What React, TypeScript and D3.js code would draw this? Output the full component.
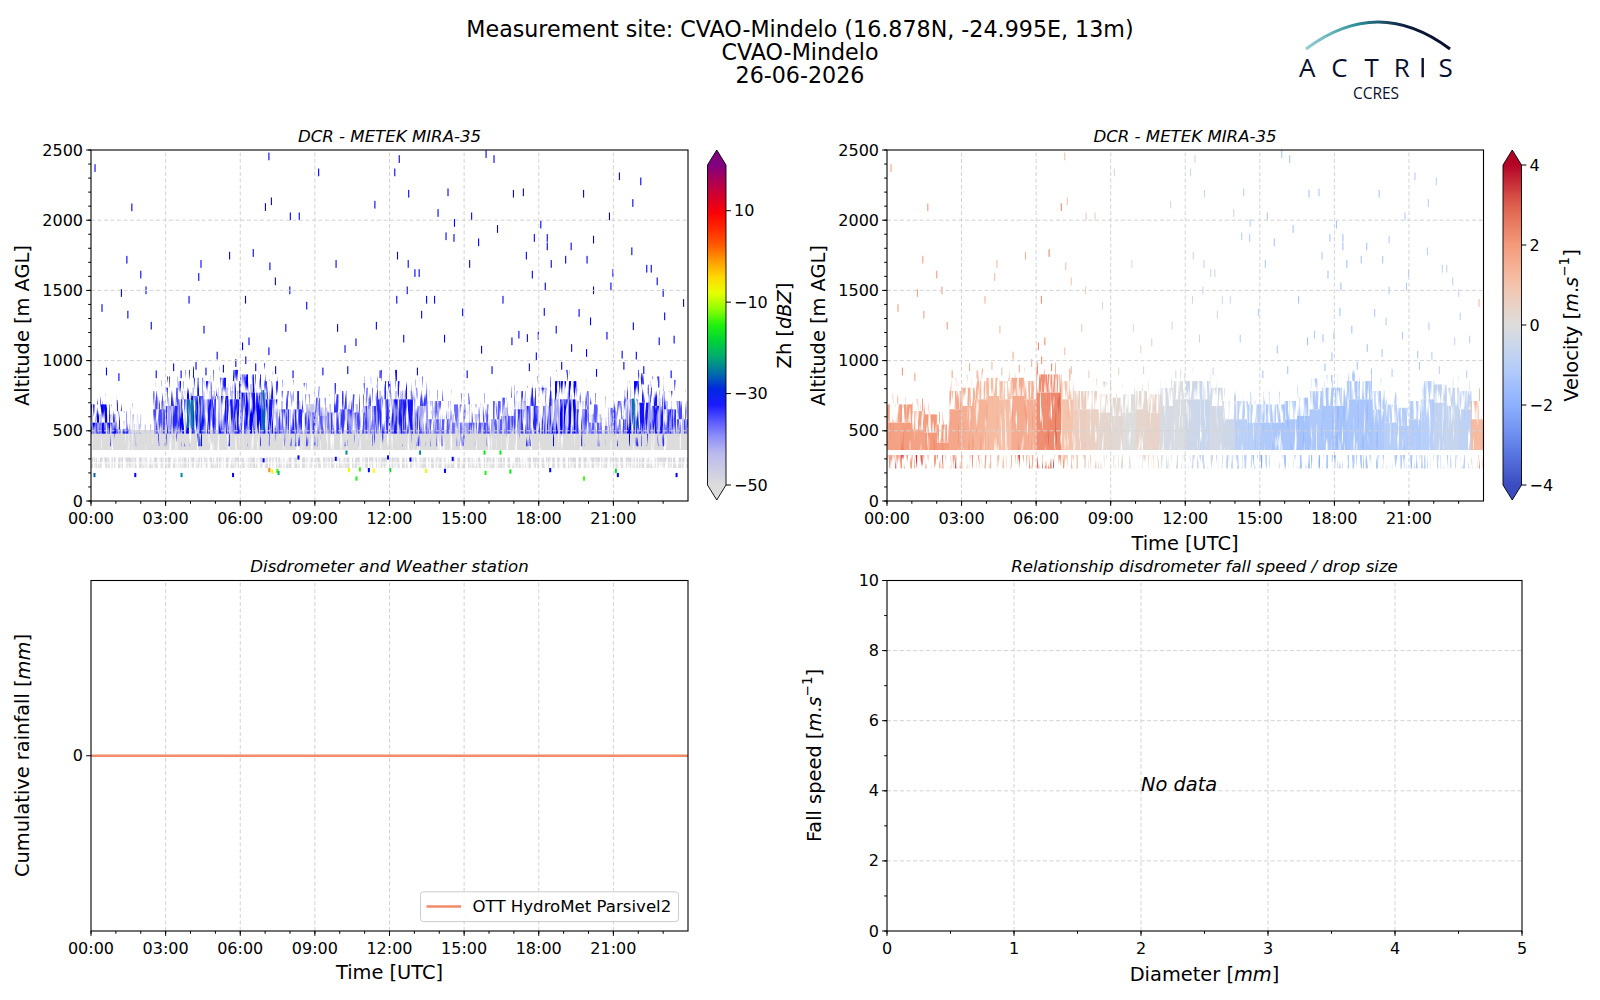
import * as d3 from "d3";

// ---------- values ----------
const binStartHours = d3.range(0, 24, 0.5);
const binWidthHours = 0.5;

// top of the boundary-layer cloud echo, per half hour [m]
const echoTopAltitude = [
  648, 648, 600, 577, 505, 743, 767, 814, 838, 814, 838, 814, 862, 862, 814, 743,
  743, 720, 696, 720, 743, 720, 767, 814, 814, 814, 767, 672, 672, 648, 648, 648,
  672, 696, 743, 767, 767, 814, 814, 743, 648, 624, 672, 814, 790, 767, 743, 672
];
// typical reflectivity of that echo, per half hour [dBZ]
const echoReflectivity = [
  -31, -31, -33, -42, -45, -35, -33, -31, -30, -32, -32, -32, -31, -31, -32, -34,
  -33, -34, -36, -34, -34, -35, -34, -33, -32, -32, -34, -36, -36, -37, -36, -35,
  -36, -35, -34, -33, -33, -31, -31, -34, -36, -37, -34, -31, -32, -32, -33, -35
];
// typical Doppler velocity, per half hour [m/s]
const echoVelocity = [
  1.8, 1.9, 1.8, 2.0, 1.9, 1.7, 1.5, 1.4, 1.2, 1.1, 1.6, 1.5, 2.2, 2.3, 1.0, 0.6,
  0.5, 0.3, 0.2, 0.0, 0.3, 0.4, -0.2, -0.1, -0.4, -0.5, -0.3, -0.4, -0.9, -1.0, -1.2, -1.3,
  -1.3, -1.4, -1.2, -1.3, -1.4, -1.3, -1.3, -1.2, -1.0, -1.1, -1.1, -1.0, -0.7, -0.6, -0.8, 1.2
];
const blueEchoBase = 480;
const blueStreakBase = 390;
const dopplerEchoBase = 363;
const weakEchoZh = -45;

// weak clutter / aerosol layers in Zh
const clutterBase = [363, 275, 235];
const clutterTop = [505, 310, 268];
const clutterZh = [-50, -49, -51];
// low Doppler band
const lowBandBase = 232;
const lowBandTop = 327;

// stronger cores
const coreStartHours = [3.85, 6.85, 21.75];
const coreEndHours = [4.12, 7.0, 21.95];
const coreBase = [520, 500, 520];
const coreTop = [720, 790, 730];
const coreZh = [-25, -26, -25];

// isolated echoes aloft [hour, altitude m]
const sparseEchoes: [number, number][] = [
  [0.14, 2369], [7.13, 2452], [9.13, 2338], [12.37, 2433], [12.19, 2338], [15.86, 2469], [16.18, 2433],
  [21.22, 2310], [22.08, 2274], [1.62, 2089], [6.99, 2091], [7.23, 2132], [7.99, 2025], [8.35, 2025],
  [11.39, 2108], [12.75, 2186], [13.93, 2049], [14.33, 2196], [14.59, 1978], [15.28, 2025], [16.96, 2186],
  [17.36, 2196], [18.06, 1966], [19.78, 2186], [20.82, 2025], [21.76, 2120], [16.32, 1935], [14.25, 1883],
  [14.57, 1871], [17.8, 1871], [18.32, 1871], [20.18, 1859], [15.56, 1840], [18.32, 1811], [19.28, 1811],
  [21.72, 1776], [6.5, 1764], [5.55, 1745], [12.3, 1745], [17.48, 1745], [19.92, 1716], [1.42, 1716],
  [4.4, 1686], [7.17, 1669], [9.83, 1686], [12.73, 1686], [15.2, 1686], [18.48, 1686], [19.06, 1716],
  [22.32, 1652], [22.5, 1652], [1.98, 1610], [4.31, 1593], [7.39, 1562], [13.0, 1621], [13.17, 1621],
  [17.72, 1610], [20.96, 1621], [22.74, 1562], [2.19, 1498], [1.2, 1479], [7.97, 1498], [12.69, 1498],
  [18.24, 1526], [20.18, 1498], [22.98, 1479], [20.88, 1526], [0.42, 1372], [1.46, 1325], [3.92, 1431],
  [6.19, 1431], [8.65, 1389], [12.27, 1431], [13.47, 1431], [13.79, 1431], [16.54, 1431], [18.2, 1344],
  [19.6, 1337], [23.04, 1313], [23.8, 1408], [2.4, 1246], [4.52, 1218], [7.81, 1230], [9.89, 1230],
  [11.45, 1246], [13.27, 1325], [14.92, 1341], [17.18, 1182], [17.52, 1158], [17.96, 1175], [18.68, 1218],
  [20.06, 1277], [20.72, 1175], [21.78, 1242], [22.82, 1135], [23.42, 1147], [6.33, 1135], [6.07, 1099],
  [10.19, 1080], [10.63, 1128], [12.55, 1154], [14.19, 1154], [16.9, 1135], [19.3, 1087], [19.9, 1052],
  [21.33, 1040], [21.9, 1033], [5.05, 1033], [7.13, 1064], [15.68, 1075], [17.88, 1028],
  [3.3, 950], [3.6, 900], [4.2, 960], [4.6, 920], [5.3, 940], [5.8, 980], [6.2, 1000], [6.6, 950],
  [7.4, 930], [8.1, 900], [9.3, 920], [10.3, 930], [11.6, 900], [13.1, 920], [15.1, 900], [16.1, 930],
  [17.6, 950], [18.9, 960], [20.3, 910], [21.4, 960], [22.2, 930], [23.3, 900], [0.6, 920], [1.1, 880], [2.6, 900]
];

// low-level echoes below the cloud [hour, altitude m, Zh dBZ]
const lowEchoes: [number, number, number][] = [
  [0.1, 185, -26], [1.74, 185, -31], [3.6, 185, -24], [5.67, 185, -31], [7.13, 220, 0], [7.25, 210, -8],
  [7.45, 215, -14], [7.5, 200, -20], [10.23, 345, -24], [10.33, 220, -8], [10.63, 160, -15], [10.77, 225, -14],
  [11.13, 220, -31], [11.33, 215, -7], [11.99, 220, -18], [13.19, 345, -24], [13.43, 215, -8], [14.19, 215, -31],
  [15.78, 345, -16], [15.82, 200, -15], [16.42, 345, -16], [16.82, 210, -16], [18.42, 220, -31], [19.78, 160, -14],
  [21.06, 215, -18], [21.14, 185, -31], [23.5, 185, -31], [8.3, 310, -31], [6.9, 290, -31], [9.8, 300, -31],
  [11.9, 310, -31], [14.5, 300, -31], [12.8, 295, -31]
];

// cumulative rainfall (Parsivel2): dry day
const rainHours = [0, 24];
const rainTotal = [0, 0];

// ticks
const timeTicks = [0, 3, 6, 9, 12, 15, 18, 21];
const timeMinorTicks = d3.range(0, 24, 1);
const altitudeTicks = [0, 500, 1000, 1500, 2000, 2500];
const altitudeMinorTicks = d3.range(0, 2501, 100);
const zhTicks = [-50, -30, -10, 10];
const velocityTicks = [-4, -2, 0, 2, 4];
const diameterTicks = [0, 1, 2, 3, 4, 5];
const diameterMinorTicks = d3.range(0, 5.01, 0.5);
const fallSpeedTicks = [0, 2, 4, 6, 8, 10];
const fallSpeedMinorTicks = d3.range(0, 10.01, 1);

// ---------- colour maps ----------
const zhStops = [-50, -42, -37, -31, -27, -23, -16, -11, -7, -2, 2, 9, 15, 20];
const zhStopColors = [
  "#dcdcdc", "#b4b4f0", "#6b6bff", "#0000ff", "#0050c0", "#00a080", "#00ee10",
  "#a0ff00", "#ffff00", "#ffb000", "#ff6000", "#ff0000", "#c00040", "#800080"
];
const velStops = [-4, -3, -2, -1, 0, 1, 2, 3, 4];
const velStopColors = [
  "#3b4cc0", "#6282ea", "#8db0fe", "#b7cff9", "#dddddd", "#f5c4ac", "#f49a7b", "#de604d", "#b40426"
];
const zhColor = d3.scaleLinear<string>().domain(zhStops).range(zhStopColors).clamp(true);
const velColor = d3.scaleLinear<string>().domain(velStops).range(velStopColors).clamp(true);

// ---------- layout ----------
const W = 1600;
const H = 1000;
const FONT = "'DejaVu Sans', sans-serif";
const rainColor = "#f28b68";
const gridColor = "#d3d3d3";

const topY = d3.scaleLinear().domain([0, 2500]).range([501, 150]);
const zhTime = d3.scaleLinear().domain([0, 24]).range([91, 688]);
const velTime = d3.scaleLinear().domain([0, 24]).range([887, 1483.5]);
const rainTime = d3.scaleLinear().domain([0, 24]).range([91, 688]);
const rainY = d3.scaleLinear().domain([-1, 1]).range([931, 580.5]);
const diameterX = d3.scaleLinear().domain([0, 5]).range([887, 1522]);
const fallSpeedY = d3.scaleLinear().domain([0, 10]).range([931, 580.5]);

const hh = (h: number) => `${String(h).padStart(2, "0")}:00`;
const minus = (v: number) => (v < 0 ? `\u2212${Math.abs(v)}` : `${v}`);

// noise textures: [id, seed, alpha gain, alpha offset]
const textures: [string, number, number, number][] = [
  ["texDense", 4, 5, -1.95],
  ["texSolid", 7, 5, -1.1],
  ["texSparse", 11, 6, -3.1],
  ["texThin", 19, 7, -4.4],
  ["texAccent", 23, 7, -4.0],
  ["texWeak", 31, 6, -2.9],
  ["texFull", 37, 5, -0.9]
];

export default function App() {
  return (
    <div style={{ width: W, height: H }}>
      <style>{"body{margin:0;background:#fff}"}</style>
      <svg width={W} height={H} viewBox={`0 0 ${W} ${H}`} style={{ display: "block", fontFamily: FONT }}>
        <Defs />
        <SuperTitle />
        <Logo />
        <ReflectivityPanel />
        <VelocityPanel />
        <RainfallPanel />
        <FallSpeedPanel />
      </svg>
    </div>
  );
}

function Defs() {
  const steps = d3.range(0, 1.0001, 0.05);
  return (
    <defs>
      {textures.map(([id, seed, gain, offset]) => (
        <filter
          key={id}
          id={id}
          filterUnits="userSpaceOnUse"
          x="0"
          y="0"
          width={W}
          height={H}
          colorInterpolationFilters="sRGB"
        >
          <feTurbulence type="fractalNoise" baseFrequency="0.38 0.028" numOctaves="2" seed={seed} result="n" />
          <feColorMatrix
            in="n"
            type="matrix"
            values={`0 0 0 0 0  0 0 0 0 0  0 0 0 0 0  ${gain} 0 0 0 ${offset}`}
            result="a"
          />
          <feComposite in="SourceGraphic" in2="a" operator="in" />
        </filter>
      ))}
      <linearGradient id="zhGrad" x1="0" y1="1" x2="0" y2="0">
        {steps.map((t) => (
          <stop key={t} offset={t} stopColor={zhColor(-50 + t * 70)} />
        ))}
      </linearGradient>
      <linearGradient id="velGrad" x1="0" y1="1" x2="0" y2="0">
        {steps.map((t) => (
          <stop key={t} offset={t} stopColor={velColor(-4 + t * 8)} />
        ))}
      </linearGradient>
      <linearGradient id="arcGrad" x1="1306" y1="0" x2="1450" y2="0" gradientUnits="userSpaceOnUse">
        <stop offset="0" stopColor="#63b9bd" stopOpacity="0.7" />
        <stop offset="0.35" stopColor="#2f8f9a" />
        <stop offset="0.7" stopColor="#0d1a3a" />
        <stop offset="1" stopColor="#0b0f2e" />
      </linearGradient>
      <linearGradient id="poleGrad" x1="0" y1="0" x2="0" y2="1">
        <stop offset="0" stopColor="#0b0f2e" stopOpacity="0.3" />
        <stop offset="1" stopColor="#0b0f2e" />
      </linearGradient>
      <clipPath id="clipZh">
        <rect x={91} y={150} width={597} height={351} />
      </clipPath>
      <clipPath id="clipVel">
        <rect x={887} y={150} width={596.5} height={351} />
      </clipPath>
    </defs>
  );
}

function SuperTitle() {
  const lines = ["Measurement site: CVAO-Mindelo (16.878N, -24.995E, 13m)", "CVAO-Mindelo", "26-06-2026"];
  return (
    <g fontSize="22.2" textAnchor="middle">
      {lines.map((t, i) => (
        <text key={t} x={800} y={36.5 + i * 23}>
          {t}
        </text>
      ))}
    </g>
  );
}

function Logo() {
  const letters = ["A", "C", "T", "R", "I", "S"];
  const centers = [1307.3, 1339.5, 1371.7, 1401.7, 1422.7, 1445.7];
  return (
    <g>
      <path d="M1306,49 Q1378,-5 1450,49" fill="none" stroke="url(#arcGrad)" strokeWidth="3" />
      <line x1="1422.7" y1="2" x2="1422.7" y2="52" stroke="url(#poleGrad)" strokeWidth="2.4" />
      <g fontFamily="'Open Sans', Lato, sans-serif" fontSize="26" fill="#0b0f2e" textAnchor="middle">
        {letters.map((l, i) =>
          l === "I" ? (
            <rect key={l} x={centers[i] - 1.2} y={58} width={2.4} height={19.3} fill="#0b0f2e" />
          ) : (
            <text key={l} x={centers[i]} y={77.3}>
              {l}
            </text>
          )
        )}
      </g>
      <text x={1376} y={98.8} fontFamily="'Open Sans', Lato, sans-serif" fontSize="15.5" fill="#0b0f2e" textAnchor="middle">
        CCRES
      </text>
    </g>
  );
}

interface FrameProps {
  readonly x: d3.ScaleLinear<number, number>;
  readonly y: d3.ScaleLinear<number, number>;
  readonly xTicks: readonly number[];
  readonly xMinor: readonly number[];
  readonly yTicks: readonly number[];
  readonly yMinor: readonly number[];
  readonly xFormat: (v: number) => string;
  readonly yFormat: (v: number) => string;
}

function Grid({
  x,
  y,
  xGrid,
  yGrid
}: {
  readonly x: d3.ScaleLinear<number, number>;
  readonly y: d3.ScaleLinear<number, number>;
  readonly xGrid: readonly number[];
  readonly yGrid: readonly number[];
}) {
  const [x0, x1] = x.range();
  const [y0, y1] = y.range();
  return (
    <g stroke={gridColor} strokeWidth="1" strokeDasharray="4,2.5">
      {xGrid.map((v) => (
        <line key={`gx${v}`} x1={x(v)} x2={x(v)} y1={y0} y2={y1} />
      ))}
      {yGrid.map((v) => (
        <line key={`gy${v}`} x1={x0} x2={x1} y1={y(v)} y2={y(v)} />
      ))}
    </g>
  );
}

function Frame({ x, y, xTicks, xMinor, yTicks, yMinor, xFormat, yFormat }: FrameProps) {
  const [x0, x1] = x.range();
  const [y0, y1] = y.range();
  return (
    <g>
      <rect x={x0} y={y1} width={x1 - x0} height={y0 - y1} fill="none" stroke="#000" strokeWidth="1.1" />
      <g stroke="#000" strokeWidth="1">
        {xMinor.map((v) => (
          <line key={`mx${v}`} x1={x(v)} x2={x(v)} y1={y0} y2={y0 + 2.8} />
        ))}
        {xTicks.map((v) => (
          <line key={`tx${v}`} x1={x(v)} x2={x(v)} y1={y0} y2={y0 + 4.9} />
        ))}
        {yMinor.map((v) => (
          <line key={`my${v}`} x1={x0} x2={x0 - 2.8} y1={y(v)} y2={y(v)} />
        ))}
        {yTicks.map((v) => (
          <line key={`ty${v}`} x1={x0} x2={x0 - 4.9} y1={y(v)} y2={y(v)} />
        ))}
      </g>
      <g fontSize="16" fill="#000">
        {xTicks.map((v) => (
          <text key={`lx${v}`} x={x(v)} y={y0 + 23} textAnchor="middle">
            {xFormat(v)}
          </text>
        ))}
        {yTicks.map((v) => (
          <text key={`ly${v}`} x={x0 - 8} y={y(v)} textAnchor="end" dominantBaseline="central">
            {yFormat(v)}
          </text>
        ))}
      </g>
    </g>
  );
}

function PanelTitle({ x, y, text }: { readonly x: number; readonly y: number; readonly text: string }) {
  return (
    <text x={x} y={y} fontSize="16.6" fontStyle="italic" textAnchor="middle">
      {text}
    </text>
  );
}

function YLabel({ x, y, children }: { readonly x: number; readonly y: number; readonly children: React.ReactNode }) {
  return (
    <text transform={`translate(${x},${y}) rotate(-90)`} fontSize="19.4" textAnchor="middle" dominantBaseline="central">
      {children}
    </text>
  );
}

function ColorBar({
  x,
  domain,
  gradId,
  under,
  over,
  ticks
}: {
  readonly x: number;
  readonly domain: [number, number];
  readonly gradId: string;
  readonly under: string;
  readonly over: string;
  readonly ticks: readonly number[];
}) {
  const w = 18.5;
  const s = d3.scaleLinear().domain(domain).range([485, 165]);
  const outline = `M${x},165 L${x + w / 2},150 L${x + w},165 L${x + w},485 L${x + w / 2},500 L${x},485 Z`;
  return (
    <g>
      <rect x={x} y={165} width={w} height={320} fill={`url(#${gradId})`} />
      <path d={`M${x},165 L${x + w / 2},150 L${x + w},165 Z`} fill={over} />
      <path d={`M${x},485 L${x + w / 2},500 L${x + w},485 Z`} fill={under} />
      <path d={outline} fill="none" stroke="#000" strokeWidth="0.9" />
      {ticks.map((t) => (
        <g key={t}>
          <line x1={x + w} x2={x + w + 4.9} y1={s(t)} y2={s(t)} stroke="#000" strokeWidth="1" />
          <text x={x + w + 8} y={s(t)} fontSize="16" dominantBaseline="central">
            {minus(t)}
          </text>
        </g>
      ))}
    </g>
  );
}

// one band per half-hour bin, between two altitudes, textured by a noise filter
function BinBands({
  x,
  y,
  lower,
  upper,
  color,
  filter
}: {
  readonly x: d3.ScaleLinear<number, number>;
  readonly y: d3.ScaleLinear<number, number>;
  readonly lower: (i: number) => number;
  readonly upper: (i: number) => number;
  readonly color: (i: number) => string;
  readonly filter: string;
}) {
  const bw = x(binWidthHours) - x(0);
  return (
    <g filter={`url(#${filter})`}>
      {binStartHours.map((h, i) => {
        const lo = lower(i);
        const hi = upper(i);
        if (hi <= lo) return null;
        return <rect key={h} x={x(h)} width={bw + 0.4} y={y(hi)} height={y(lo) - y(hi)} fill={color(i)} />;
      })}
    </g>
  );
}

function ReflectivityPanel() {
  const x = zhTime;
  const y = topY;
  const zh = (i: number) => echoReflectivity[i];
  const coreTopOf = (i: number) => Math.max(echoTopAltitude[i] - 90, blueEchoBase);
  return (
    <g>
      <g clipPath="url(#clipZh)">
        {clutterBase.map((b, i) => (
          <g key={`cl${i}`} filter={i === 0 ? "url(#texSolid)" : "url(#texDense)"}>
            <rect
              x={x(0)}
              width={x(24) - x(0)}
              y={y(clutterTop[i])}
              height={y(b) - y(clutterTop[i])}
              fill={zhColor(clutterZh[i])}
            />
          </g>
        ))}
        <BinBands x={x} y={y} lower={() => blueEchoBase} upper={(i) => echoTopAltitude[i] - 30} color={() => zhColor(weakEchoZh)} filter="texWeak" />
        <BinBands x={x} y={y} lower={() => blueStreakBase} upper={() => blueEchoBase} color={(i) => zhColor(zh(i))} filter="texThin" />
        <BinBands x={x} y={y} lower={() => blueEchoBase} upper={coreTopOf} color={(i) => zhColor(zh(i))} filter="texDense" />
        <BinBands x={x} y={y} lower={() => blueEchoBase} upper={coreTopOf} color={() => zhColor(-41)} filter="texAccent" />
        <BinBands x={x} y={y} lower={coreTopOf} upper={(i) => echoTopAltitude[i] + 40} color={(i) => zhColor(zh(i))} filter="texSparse" />
        <BinBands
          x={x}
          y={y}
          lower={(i) => echoTopAltitude[i] + 40}
          upper={(i) => echoTopAltitude[i] + 120}
          color={(i) => zhColor(zh(i))}
          filter="texThin"
        />
        <g filter="url(#texDense)">
          {coreStartHours.map((h, i) => (
            <rect
              key={`c${h}`}
              x={x(h)}
              width={x(coreEndHours[i]) - x(h)}
              y={y(coreTop[i])}
              height={y(coreBase[i]) - y(coreTop[i])}
              fill={zhColor(coreZh[i])}
            />
          ))}
        </g>
        {sparseEchoes.map(([h, a]) => (
          <rect key={`s${h}-${a}`} x={x(h)} width={1.1} y={y(a + 30)} height={y(0) - y(55)} fill={zhColor(-31)} />
        ))}
        {lowEchoes.map(([h, a, z]) => (
          <rect key={`l${h}-${a}`} x={x(h)} width={2} y={y(a + 15)} height={y(0) - y(30)} fill={zhColor(z)} />
        ))}
      </g>
      <Grid x={x} y={y} xGrid={timeTicks.slice(1)} yGrid={[500, 1000, 1500, 2000]} />
      <Frame
        x={x}
        y={y}
        xTicks={timeTicks}
        xMinor={timeMinorTicks}
        yTicks={altitudeTicks}
        yMinor={altitudeMinorTicks}
        xFormat={hh}
        yFormat={(v) => `${v}`}
      />
      <PanelTitle x={389.5} y={142} text="DCR - METEK MIRA-35" />
      <YLabel x={22.5} y={325.5}>Altitude [m AGL]</YLabel>
      <ColorBar x={707.5} domain={[-50, 20]} gradId="zhGrad" under="#dcdcdc" over="#800080" ticks={zhTicks} />
      <YLabel x={784} y={325.5}>
        Zh [<tspan fontStyle="italic">dBZ</tspan>]
      </YLabel>
    </g>
  );
}

function VelocityPanel() {
  const x = velTime;
  const y = topY;
  const binOf = (h: number) => Math.min(echoVelocity.length - 1, Math.floor(h / binWidthHours));
  const v = (i: number) => echoVelocity[i];
  return (
    <g>
      <g clipPath="url(#clipVel)">
        <BinBands x={x} y={y} lower={() => lowBandBase} upper={() => lowBandTop} color={(i) => velColor(v(i))} filter="texSparse" />
        <BinBands x={x} y={y} lower={() => lowBandBase} upper={() => lowBandTop} color={(i) => velColor(v(i) * 2)} filter="texThin" />
        <BinBands
          x={x}
          y={y}
          lower={() => dopplerEchoBase}
          upper={(i) => echoTopAltitude[i] - 90}
          color={(i) => velColor(v(i))}
          filter="texFull"
        />
        <BinBands
          x={x}
          y={y}
          lower={() => dopplerEchoBase}
          upper={(i) => echoTopAltitude[i] - 90}
          color={(i) => velColor(v(i) * 1.3)}
          filter="texThin"
        />
        <BinBands
          x={x}
          y={y}
          lower={(i) => echoTopAltitude[i] - 90}
          upper={(i) => echoTopAltitude[i] + 40}
          color={(i) => velColor(v(i))}
          filter="texDense"
        />
        <BinBands
          x={x}
          y={y}
          lower={(i) => echoTopAltitude[i] + 40}
          upper={(i) => echoTopAltitude[i] + 130}
          color={(i) => velColor(v(i))}
          filter="texThin"
        />
        {sparseEchoes.map(([h, a]) => (
          <rect
            key={`s${h}-${a}`}
            x={x(h)}
            width={1.1}
            y={y(a + 30)}
            height={y(0) - y(55)}
            fill={velColor(echoVelocity[binOf(h)])}
          />
        ))}
      </g>
      <Grid x={x} y={y} xGrid={timeTicks.slice(1)} yGrid={[500, 1000, 1500, 2000]} />
      <Frame
        x={x}
        y={y}
        xTicks={timeTicks}
        xMinor={timeMinorTicks}
        yTicks={altitudeTicks}
        yMinor={altitudeMinorTicks}
        xFormat={hh}
        yFormat={(v) => `${v}`}
      />
      <PanelTitle x={1185} y={142} text="DCR - METEK MIRA-35" />
      <YLabel x={818.5} y={325.5}>Altitude [m AGL]</YLabel>
      <text x={1185} y={550} fontSize="19.4" textAnchor="middle">
        Time [UTC]
      </text>
      <ColorBar x={1503} domain={[-4, 4]} gradId="velGrad" under="#3b4cc0" over="#b40426" ticks={velocityTicks} />
      <YLabel x={1571} y={325.5}>
        Velocity [<tspan fontStyle="italic">m</tspan>.<tspan fontStyle="italic">s</tspan>
        <tspan dy="-7" fontSize="13.5">−1</tspan>
        <tspan dy="7">]</tspan>
      </YLabel>
    </g>
  );
}

function RainfallPanel() {
  const x = rainTime;
  const y = rainY;
  const path = d3
    .line<number>()
    .x((_, i) => x(rainHours[i]))
    .y((d) => y(d))(rainTotal);
  return (
    <g>
      <Grid x={x} y={y} xGrid={timeTicks.slice(1)} yGrid={[]} />
      <path d={path ?? ""} fill="none" stroke={rainColor} strokeWidth="2.6" />
      <Frame
        x={x}
        y={y}
        xTicks={timeTicks}
        xMinor={timeMinorTicks}
        yTicks={[0]}
        yMinor={[]}
        xFormat={hh}
        yFormat={(v) => `${v}`}
      />
      <PanelTitle x={389.5} y={572} text="Disdrometer and Weather station" />
      <YLabel x={22.5} y={755.5}>
        Cumulative rainfall [<tspan fontStyle="italic">mm</tspan>]
      </YLabel>
      <text x={389.5} y={979} fontSize="19.4" textAnchor="middle">
        Time [UTC]
      </text>
      <g>
        <rect x={420.5} y={891.8} width={258} height={29.8} rx={3} fill="#fff" fillOpacity="0.8" stroke="#cccccc" />
        <line x1={426.5} x2={461} y1={906.5} y2={906.5} stroke={rainColor} strokeWidth="2.6" />
        <text x={472.5} y={912.3} fontSize="16.6">
          OTT HydroMet Parsivel2
        </text>
      </g>
    </g>
  );
}

function FallSpeedPanel() {
  const x = diameterX;
  const y = fallSpeedY;
  return (
    <g>
      <Grid x={x} y={y} xGrid={diameterTicks.slice(1, -1)} yGrid={fallSpeedTicks.slice(1, -1)} />
      <Frame
        x={x}
        y={y}
        xTicks={diameterTicks}
        xMinor={diameterMinorTicks}
        yTicks={fallSpeedTicks}
        yMinor={fallSpeedMinorTicks}
        xFormat={(v) => `${v}`}
        yFormat={(v) => `${v}`}
      />
      <text x={x(2)} y={y(4)} fontSize="19.4" fontStyle="italic">
        No data
      </text>
      <PanelTitle x={1204.5} y={572} text="Relationship disdrometer fall speed / drop size" />
      <YLabel x={814} y={755.5}>
        Fall speed [<tspan fontStyle="italic">m</tspan>.<tspan fontStyle="italic">s</tspan>
        <tspan dy="-7" fontSize="13.5">−1</tspan>
        <tspan dy="7">]</tspan>
      </YLabel>
      <text x={1204.5} y={981} fontSize="19.4" textAnchor="middle">
        Diameter [<tspan fontStyle="italic">mm</tspan>]
      </text>
    </g>
  );
}
